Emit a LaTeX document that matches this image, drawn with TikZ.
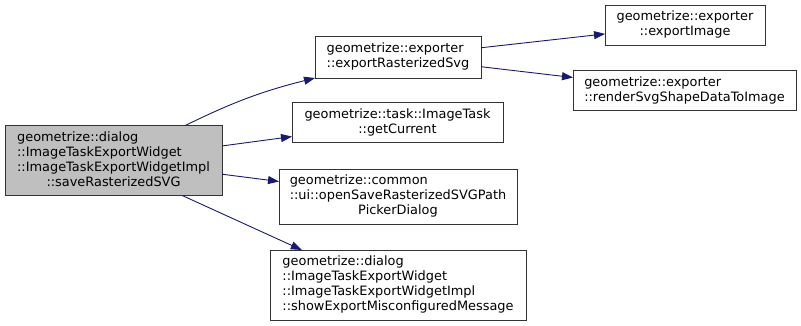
\documentclass[tikz,border=0pt]{standalone}
\usepackage{fontspec}
\setmainfont{DejaVu Sans}
\usepackage{tikz}
\usetikzlibrary{arrows.meta,positioning}
\definecolor{edgeblue}{HTML}{191970}
\definecolor{callerfill}{gray}{0.75}
\newcommand{\fnlabel}[2]{\begin{tabular}{@{}l@{}}#1\\\multicolumn{1}{@{}c@{}}{#2}\end{tabular}}
\tikzset{
    fnbox/.style={draw=black!80, line width=1pt, fill=white, inner xsep=2pt, inner ysep=5pt,
        outer sep=0pt, font=\fontsize{12.9}{15}\selectfont},
    callarrow/.style={draw=edgeblue, line width=0.9pt, -{Triangle[length=11pt,width=8pt]}}
}

\begin{document}
\begin{tikzpicture}[x=1pt, y=-1pt]
    \useasboundingbox (0, 0) rectangle (801, 325);
    \node[fnbox, fill=callerfill, minimum width=217pt, minimum height=70pt] (main) at (113.5, 160.5)
        {\fnlabel{geometrize::dialog\\::ImageTaskExportWidget\\::ImageTaskExportWidgetImpl}{::saveRasterizedSVG}};
    \node[fnbox, minimum width=166pt, minimum height=42pt] (ers) at (398, 57)
        {\fnlabel{geometrize::exporter}{::exportRasterizedSvg}};
    \node[fnbox, minimum width=160pt, minimum height=40pt] (ei) at (685, 25)
        {\fnlabel{geometrize::exporter}{::exportImage}};
    \node[fnbox, minimum width=223pt, minimum height=40pt] (rsd) at (684.5, 90.5)
        {\fnlabel{geometrize::exporter}{::renderSvgShapeDataToImage}};
    \node[fnbox, minimum width=211pt, minimum height=39pt] (gc) at (397.5, 122.5)
        {\fnlabel{geometrize::task::ImageTask}{::getCurrent}};
    \node[fnbox, minimum width=238pt, minimum height=55pt] (osp) at (398, 196.5)
        {\fnlabel{geometrize::common\\::ui::openSaveRasterizedSVGPath}{PickerDialog}};
    \node[fnbox, minimum width=256pt, minimum height=70pt] (sem) at (398, 285)
        {\fnlabel{geometrize::dialog\\::ImageTaskExportWidget\\::ImageTaskExportWidgetImpl}{::showExportMisconfiguredMessage}};

    \draw[callarrow] (main.26) to[bend left=6] (ers.south west);
    \draw[callarrow] (main) -- (gc);
    \draw[callarrow] (main) -- (osp);
    \draw[callarrow] (main.-27) -- (sem.160);
    \draw[callarrow] (ers) -- (ei);
    \draw[callarrow] (ers) -- (rsd);
\end{tikzpicture}
\end{document}
